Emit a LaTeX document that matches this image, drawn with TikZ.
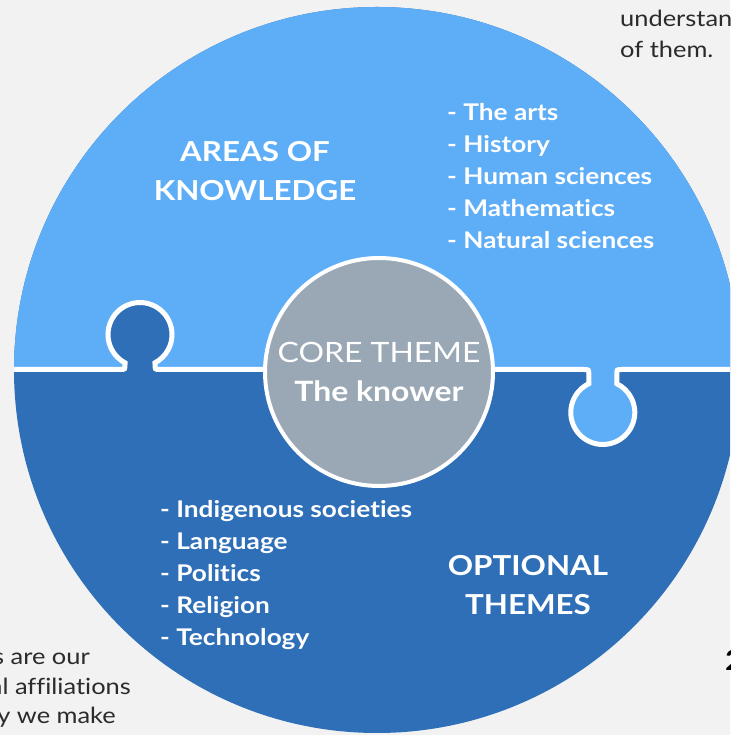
\documentclass[tikz,border=0pt]{standalone}
\usepackage{fontspec}
\setmainfont{Lato}[FakeStretch=1.14, Ligatures=NoCommon]
\definecolor{bgc}{HTML}{F2F2F2}
\definecolor{lightb}{HTML}{5EAEF7}
\definecolor{darkb}{HTML}{2E6FB8}
\definecolor{coreg}{HTML}{9AA7B5}
\definecolor{sidetext}{HTML}{2B2B2B}
\tikzset{
  heading/.style={text=white, align=center, inner sep=0pt, font=\fontsize{27.5}{39}\selectfont\bfseries},
  listtext/.style={text=white, align=left, inner sep=0pt, anchor=west, font=\fontsize{23}{32}\selectfont\bfseries},
  sidenote/.style={text=sidetext, inner sep=0pt, font=\fontsize{22.3}{30}\selectfont},
  seamline/.style={white, line width=5pt},
}
\def\seampath{(-10,365.5) -- (120,365.5) .. controls (125,365.5) .. (125,370.5) -- (125,372.2) arc[start angle=242.05, end angle=-62.05, radius=32] -- (155,370.5) .. controls (155,365.5) .. (160,365.5) -- (583.8,365.5) .. controls (588.8,365.5) .. (588.8,360.5) -- (588.8,351.3) arc[start angle=115.9, end angle=424.1, radius=32] -- (616.8,360.5) .. controls (616.8,365.5) .. (621.8,365.5) -- (745,365.5)}
\begin{document}
\begin{tikzpicture}[x=1pt,y=1pt]
\useasboundingbox (0,0) rectangle (730,735);
\clip (0,0) rectangle (730,735);
\fill[bgc] (0,0) rectangle (730,735);
% side notes (partly cut)
\node[sidenote, anchor=base west] (n1) at (620,708) {understand};
\node[sidenote, anchor=base west] (n2) at (620,677) {of them.};
\node[sidenote, anchor=base east] (n3) at (90,70) {s are our};
\node[sidenote, anchor=base east] (n4) at (131,40) {al affiliations};
\node[sidenote, anchor=base east] (n5) at (116,12) {y we make};
\node[text=black, inner sep=0pt, anchor=west, font=\fontsize{28}{30}\selectfont\bfseries] (n6) at (725,75) {2};
% big puzzle disc
\fill[darkb] (377,365) circle[radius=363];
\begin{scope}
  \clip (377,365) circle[radius=363];
  \fill[lightb] \seampath -- (745,800) -- (-10,800) -- cycle;
  \draw[seamline] \seampath;
\end{scope}
% core
\node[circle, fill=coreg, draw=white, line width=4pt, minimum size=228pt, inner sep=0pt] (core) at (379,363) {};
\node[text=white, align=center, inner sep=0pt, font=\fontsize{28}{39}\selectfont] (coretext) at (core.center) {CORE THEME\\{\bfseries The knower}};
% headings
\node[heading] (aok) at (255,563.5) {AREAS OF\\KNOWLEDGE};
\node[heading] (opt) at (528,150) {OPTIONAL\\THEMES};
% lists
\node[listtext] (aoklist) at (447,558.5) {- The arts\\- History\\- Human sciences\\- Mathematics\\- Natural sciences};
\node[listtext] (optlist) at (160,159.5) {- Indigenous societies\\- Language\\- Politics\\- Religion\\- Technology};
\end{tikzpicture}
\end{document}
